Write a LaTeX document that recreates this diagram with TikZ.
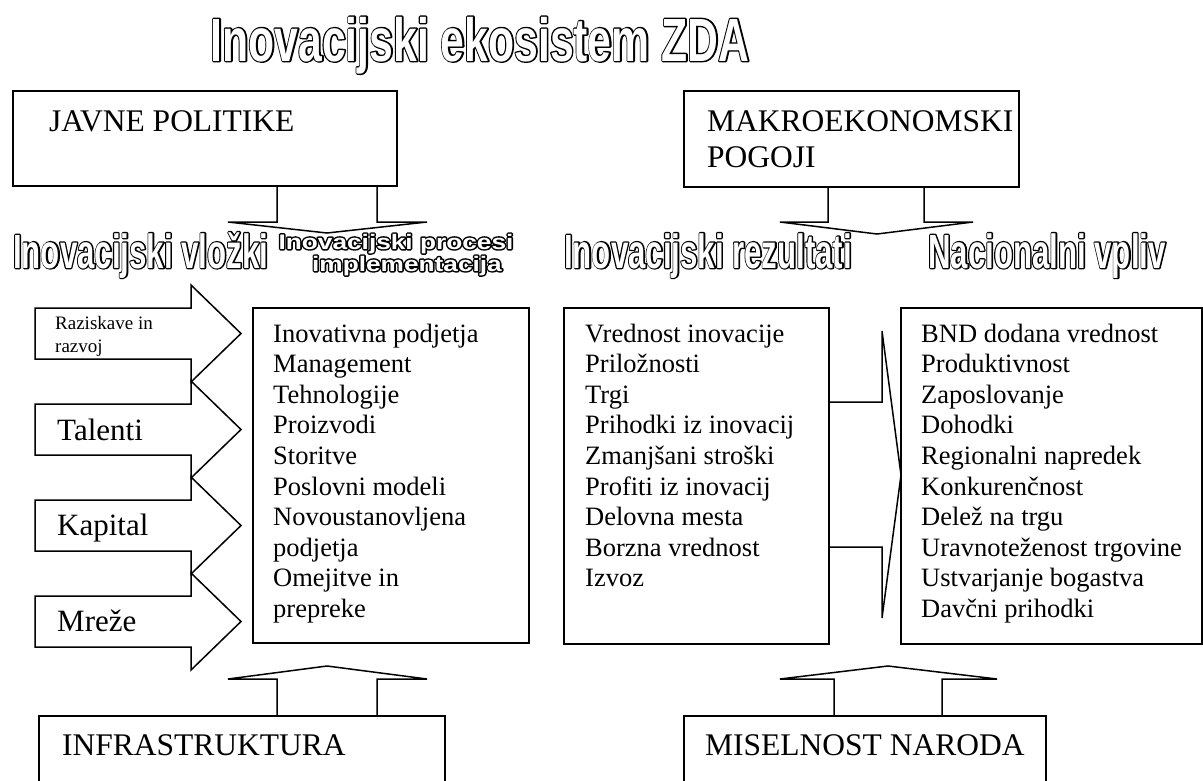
\documentclass[tikz,border=0pt]{standalone}
\usepackage{fontspec}
\setmainfont{Liberation Serif}
\newfontfamily\titlehead{Liberation Sans}[FakeStretch=0.70]
\newfontfamily\narrowhead{Liberation Sans}[FakeStretch=0.65]
\newfontfamily\widehead{Liberation Sans}[FakeStretch=1.25]
% hollow lettering: a black, widened silhouette under white glyphs
\newcommand{\hollow}[2]{\leavevmode\rlap{\special{pdf:literal direct 1 j #1 w 2 Tr}#2\special{pdf:literal direct 0 Tr 0 j}}\textcolor{white}{#2}}

\begin{document}
\begin{tikzpicture}[x=1pt,y=-1pt,
  box/.style={draw, line width=1.5pt, fill=white, inner sep=0pt, anchor=north west},
  blk/.style={draw, line width=1.5pt, line join=miter},
  capslbl/.style={anchor=base west, inner sep=0pt, font=\fontsize{31.5}{36}\selectfont},
  inlbl/.style={anchor=base west, inner sep=0pt, font=\fontsize{31}{36}\selectfont},
  item/.style={anchor=base west, inner sep=0pt, font=\fontsize{26.5}{30.6}\selectfont},
  headtxt/.style={inner sep=0pt, font=\narrowhead\bfseries\fontsize{48}{48}\selectfont},
  widetxt/.style={inner sep=0pt, anchor=base, font=\widehead\bfseries\fontsize{21}{21}\selectfont},
]
\fill[white] (0,0) rectangle (1203,780);
\useasboundingbox (0,0) rectangle (1203,780);

% title
\node[inner sep=0pt, anchor=base, font=\titlehead\bfseries\fontsize{61}{61}\selectfont]
  (title) at (480,61) {\hollow{2.8}{Inovacijski ekosistem ZDA}};

% framework boxes
\node[box, minimum width=384pt, minimum height=95pt] (javne) at (12,90) {};
\node[box, minimum width=335pt, minimum height=96pt] (makro) at (683,90) {};
\node[box, minimum width=406pt, minimum height=90pt] (infra) at (38,715) {};
\node[box, minimum width=362pt, minimum height=90pt] (misel) at (683,715) {};
\node[capslbl] (javnet) at (49,131) {JAVNE POLITIKE};
\node[capslbl] (makrot1) at (707,131) {MAKROEKONOMSKI};
\node[capslbl] (makrot2) at (707,167) {POGOJI};
\node[capslbl] (infrat) at (62,755) {INFRASTRUKTURA};
\node[capslbl] (miselt) at (705,755) {MISELNOST NARODA};

% block arrows from the framework boxes
\draw[blk] (277,185) -- (277,222) -- (228,222) -- (327,233) -- (427,222) -- (377,222) -- (377,185);
\draw[blk] (828,186) -- (828,222) -- (780,222) -- (877,234) -- (973,222) -- (924,222) -- (924,186);
\draw[blk] (277,715) -- (277,679) -- (228,679) -- (327,666) -- (427,679) -- (377,679) -- (377,715);
\draw[blk] (834,715) -- (834,679) -- (780,679) -- (888,666) -- (997,679) -- (942,679) -- (942,715);

% column headings
\node[headtxt, anchor=base west] (hin) at (13,268) {\hollow{2.5}{Inovacijski vložki}};
\node[widetxt] (hproc1) at (396,249) {\hollow{3.0}{Inovacijski procesi}};
\node[widetxt] (hproc2) at (407,271) {\hollow{3.0}{implementacija}};
\node[headtxt, anchor=base west] (hrez) at (564,268) {\hollow{2.5}{Inovacijski rezultati}};
\node[headtxt, anchor=base west] (hnat) at (928,268) {\hollow{2.5}{Nacionalni vpliv}};

% input arrows
\foreach \i in {0,...,3}{
  \pgfmathsetmacro\c{333.5+96*\i}
  \draw[blk, fill=white] (35,\c-25.5) -- (191,\c-25.5) -- (191,\c-48.5) -- (241,\c)
    -- (191,\c+48.5) -- (191,\c+25.5) -- (35,\c+25.5) -- cycle;
}
\node[anchor=base west, inner sep=0pt, font=\fontsize{19}{23}\selectfont] (rr1) at (55,329) {Raziskave in};
\node[anchor=base west, inner sep=0pt, font=\fontsize{19}{23}\selectfont] (rr2) at (55,352) {razvoj};
\node[inlbl] (tal) at (57,440) {Talenti};
\node[inlbl] (kap) at (57,535) {Kapital};
\node[inlbl] (mre) at (57,631) {Mreže};

% list boxes
\node[box, minimum width=276pt, minimum height=335pt] (procbox) at (252,307) {};
\node[box, minimum width=265pt, minimum height=336pt] (rezbox) at (563,307) {};
\node[box, minimum width=301pt, minimum height=336pt] (natbox) at (900,307) {};

\foreach \t [count=\i from 0] in {Inovativna podjetja, Management, Tehnologije, Proizvodi,
    Storitve, Poslovni modeli, Novoustanovljena, podjetja, Omejitve in, prepreke}
  \node[item] (p\i) at (273,342+30.6*\i) {\t};
\foreach \t [count=\i from 0] in {Vrednost inovacije, Priložnosti, Trgi, Prihodki iz inovacij,
    Zmanjšani stroški, Profiti iz inovacij, Delovna mesta, Borzna vrednost, Izvoz}
  \node[item] (r\i) at (585,342+30.6*\i) {\t};
\foreach \t [count=\i from 0] in {BND dodana vrednost, Produktivnost, Zaposlovanje, Dohodki,
    Regionalni napredek, Konkurenčnost, Delež na trgu, Uravnoteženost trgovine,
    Ustvarjanje bogastva, Davčni prihodki}
  \node[item] (n\i) at (921,342+30.6*\i) {\t};

% arrow from results to national impact
\draw[blk] (rezbox.east |- 0,402) -- (882,402) -- (882,331) -- (901,475) -- (882,618)
  -- (882,547) -- (rezbox.east |- 0,547);
\end{tikzpicture}
\end{document}
